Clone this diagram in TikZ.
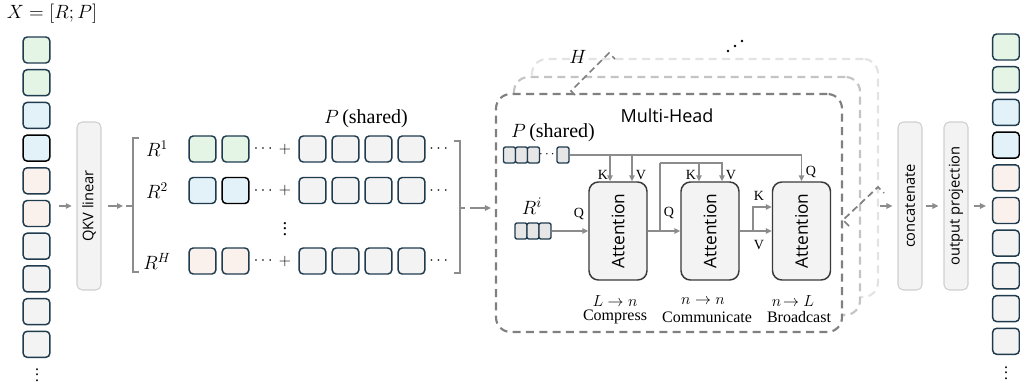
\documentclass[tikz,border=0pt]{standalone}
\usepackage{fontspec}
\setmainfont{Liberation Serif}
\setsansfont{Open Sans}
\usepackage{amsmath}
\usetikzlibrary{arrows.meta,positioning,calc}

\definecolor{tokline}{HTML}{1F3B4D}
\definecolor{tgreen}{HTML}{E4F5E6}
\definecolor{tblue}{HTML}{E3F1F9}
\definecolor{tpeach}{HTML}{FBF1EC}
\definecolor{tgray}{HTML}{F3F3F3}
\definecolor{stokfill}{HTML}{E6E6E6}
\definecolor{boxfill}{HTML}{F3F3F3}
\definecolor{boxline}{HTML}{CFCFCF}
\definecolor{attline}{HTML}{3A3A3A}
\definecolor{arrgray}{HTML}{8C8C8C}
\definecolor{headA}{HTML}{808080}
\definecolor{headB}{HTML}{C4C4C4}
\definecolor{headC}{HTML}{E3E3E3}

\begin{document}
\begin{tikzpicture}[x=0.75pt, y=-0.75pt,
    tok/.style={draw=tokline, line width=1.1pt, rounded corners=3pt, minimum width=20pt, minimum height=19.5pt, inner sep=0pt},
    stok/.style={draw=tokline, line width=1pt, rounded corners=1.5pt, fill=stokfill, minimum width=9pt, minimum height=12pt, inner sep=0pt},
    slab/.style={draw=boxline, fill=boxfill, rounded corners=4pt, line width=0.8pt, minimum width=18pt, minimum height=126pt, inner sep=0pt},
    slabtext/.style={rotate=90, font=\sffamily\fontsize{11}{13}\selectfont},
    attn/.style={draw=attline, fill=boxfill, line width=1.1pt, rounded corners=7pt, minimum width=43.5pt, minimum height=73.5pt, inner sep=0pt},
    headbox/.style={line width=1.6pt, dash pattern=on 6pt off 4pt, rounded corners=11pt, fill=white, minimum width=259.5pt, minimum height=178.5pt},
    garrow/.style={draw=arrgray, line width=1.2pt, -{Triangle[length=4.5pt,width=4pt]}},
    gline/.style={draw=arrgray, line width=1.2pt},
    hdash/.style={draw=headA, line width=1.3pt, dash pattern=on 5pt off 3pt},
    mlab/.style={font=\fontsize{14}{16}\selectfont, inner sep=1pt},
    dots/.style={font=\fontsize{12}{12}\selectfont, inner sep=0pt},
    kvq/.style={font=\fontsize{10.5}{12}\selectfont, inner sep=1pt},
    sublab/.style={font=\fontsize{12}{14}\selectfont, inner sep=0pt}
]
\useasboundingbox (0,0) rectangle (1020,383);

% input sequence X = [R; P]
\node[mlab] (xlab) at (52,14) {$X = [R; P]$};
\foreach \i/\c/\b in {0/tgreen/tokline,1/tgreen/tokline,2/tblue/tokline,3/tblue/black,4/tpeach/tokline,5/tpeach/tokline,6/tgray/tokline,7/tgray/tokline,8/tgray/tokline,9/tgray/tokline}
    \node[tok, fill=\c, draw=\b] (x\i) at (36.5,{50+32.7*\i}) {};
\node[dots] (xdots) at (37,371) {$\vdots$};

% QKV projection
\node[slab] (qkv) at (89,206) {};
\node[slabtext] at (qkv) {QKV linear};
\draw[garrow, shorten <=6pt, shorten >=3.5pt] (qkv.west -| x5.east) -- (qkv.west);

% per-head rows: R^h followed by the shared P
\node[mlab, font=\fontsize{15}{17}\selectfont] (pshared) at (366,119) {$P$\,(shared)};
\foreach \j/\y/\c/\lab/\b in {1/149/tgreen/1/tokline, 2/190.5/tblue/2/black, 3/261/tpeach/H/tokline} {
    \node[mlab] (rl\j) at (157,\y) {$R^{\lab}$};
    \node[tok, fill=\c] (ra\j) at (202.5,\y) {};
    \node[tok, fill=\c, draw=\b] (rb\j) at (235.5,\y) {};
    \node[dots] (rd\j) at (264.5,\y) {$\cdots$};
    \node[dots] (plus\j) at (285,\y) {$+$};
    \foreach \k/\xx in {1/312.5,2/345.5,3/378.5,4/411.5}
        \node[tok, fill=tgray] (p\j\k) at (\xx,\y) {};
    \node[dots] (pd\j) at (440,\y) {$\cdots$};
}
\node[dots, font=\fontsize{14}{14}\selectfont] (rowdots) at (285,225) {$\vdots$};

% brackets round the rows
\coordinate (lbm) at (133,206);
\coordinate (rbm) at (460,208);
\draw[gline] (139,138) -- (133,138) -- (133,272) -- (139,272);
\draw[gline] ($(lbm)+(-7,0)$) -- (lbm);
\draw[garrow, shorten <=5pt, shorten >=7.5pt] (qkv.east) -- (lbm);
\draw[gline] (454,141) -- (460,141) -- (460,273) -- (454,273);
\draw[gline] (rbm) -- ($(rbm)+(5,0)$);

% stacked heads
\node[headbox, draw=headC] (head3) at (705,178) {};
\node[headbox, draw=headB] (head2) at (687,196) {};
\node[headbox, draw=headA] (head) at (669,213) {};
\draw[garrow, shorten <=7.5pt, shorten >=3pt] (rbm) -- (rbm -| head.west);

% H brackets across the stack
\draw[hdash] (575,95) -- (571,91) -- (609,53) -- (615,59);
\node[mlab, font=\fontsize{15}{17}\selectfont] (hlab) at (578,57) {$H$};
\draw[hdash] (849,226) -- (843,220) -- (878,187) -- (884,193);
\fill (728,51) circle (1.4) (735,46) circle (1.4) (742,41) circle (1.4);

% inside one head
\node[font=\sffamily\fontsize{13.5}{15}\selectfont] (mhlab) at (667,116) {Multi-Head};
\node[mlab, font=\fontsize{15}{17}\selectfont] (pslab) at (553,133) {$P$\,(shared)};
\node[stok] (ps1) at (509.5,155) {};
\node[stok] (ps2) at (521.5,155) {};
\node[stok] (ps3) at (533.5,155) {};
\node[inner sep=0pt] (psd) at (548,155) {$\cdots$};
\node[stok] (ps4) at (563,155) {};

\node[mlab, font=\fontsize{15}{17}\selectfont] (rilab) at (532,206) {$R^{i}$};
\node[stok] (ri1) at (521,231) {};
\node[stok] (ri2) at (533,231) {};
\node[stok] (ri3) at (545,231) {};

\node[attn] (a1) at (618,231) {};
\node[attn] (a2) at (710,231) {};
\node[attn] (a3) at (801.5,231) {};
\foreach \a in {a1,a2,a3}
    \node[rotate=90, font=\sffamily\fontsize{13}{15}\selectfont] at (\a) {Attention};

% compress: Q from R^i, K and V from P
\coordinate (k1) at ($(a1.north)+(-8,0)$);
\coordinate (v1) at ($(a1.north)+(14,0)$);
\draw[garrow] (ps4.east) -| (a3.north);
\draw[garrow] (k1 |- ps4) -- (k1);
\draw[garrow] (v1 |- ps4) -- (v1);
\draw[garrow] (ri3.east) -- (a1.west);
\node[kvq] (k1lab) at (603,175) {K};
\node[kvq] (v1lab) at (641,175) {V};
\node[kvq] (q1lab) at (579,214) {Q};

% communicate
\coordinate (qb) at ($(a1.east)+(12,0)$);
\coordinate (bus2) at ($(qb)+(0,-68)$);
\coordinate (k2) at ($(a2.north)+(-11,0)$);
\coordinate (v2) at ($(a2.north)+(12,0)$);
\draw[garrow] (a1.east) -- (a2.west);
\draw[gline] (qb) -- (bus2);
\draw[garrow] (bus2) -| (v2);
\draw[garrow] (bus2 -| k2) -- (k2);
\node[kvq] (k2lab) at (691,175) {K};
\node[kvq] (v2lab) at (731,175) {V};
\node[kvq] (q2lab) at (669,213) {Q};

% broadcast
\coordinate (kb) at ($(a2.east)+(13,0)$);
\draw[garrow] (a2.east) -- (a3.west);
\draw[garrow] (kb) |- ($(a3.west)+(0,-24)$);
\node[kvq] (k3lab) at (759,196) {K};
\node[kvq] (v3lab) at (759,245) {V};
\node[kvq] (q3lab) at (811,172) {Q};

% stage captions
\node[sublab, font=\fontsize{13}{15}\selectfont] (s1m) at (615,301) {$L \rightarrow n$};
\node[sublab] (s1t) at (615,317) {Compress};
\node[sublab, font=\fontsize{13}{15}\selectfont] (s2m) at (703,301) {$n \rightarrow n$};
\node[sublab] (s2t) at (707,317) {Communicate};
\node[sublab, font=\fontsize{13}{15}\selectfont] (s3m) at (793,301) {$n\!\rightarrow L$};
\node[sublab] (s3t) at (799,317) {Broadcast};

% output side
\node[slab] (cat) at (910,206) {};
\node[slabtext] at (cat) {concatenate};
\node[slab] (proj) at (956,206) {};
\node[slabtext] at (proj) {output projection};
\draw[garrow, shorten <=0.75pt, shorten >=3.75pt] (cat.west -| head3.east) -- (cat.west);
\draw[garrow, shorten <=2.25pt, shorten >=3.75pt] (cat.east) -- (proj.west);

\foreach \i/\c/\b in {0/tgreen/tokline,1/tgreen/tokline,2/tblue/tokline,3/tblue/black,4/tpeach/tokline,5/tpeach/tokline,6/tgray/tokline,7/tgray/tokline,8/tgray/tokline,9/tgray/tokline}
    \node[tok, fill=\c, draw=\b] (y\i) at (1006,{47+32.7*\i}) {};
\node[dots] (ydots) at (1006,369) {$\vdots$};
\draw[garrow, shorten <=3.75pt, shorten >=4.5pt] (proj.east) -- (proj.east -| y0.west);
\end{tikzpicture}
\end{document}
